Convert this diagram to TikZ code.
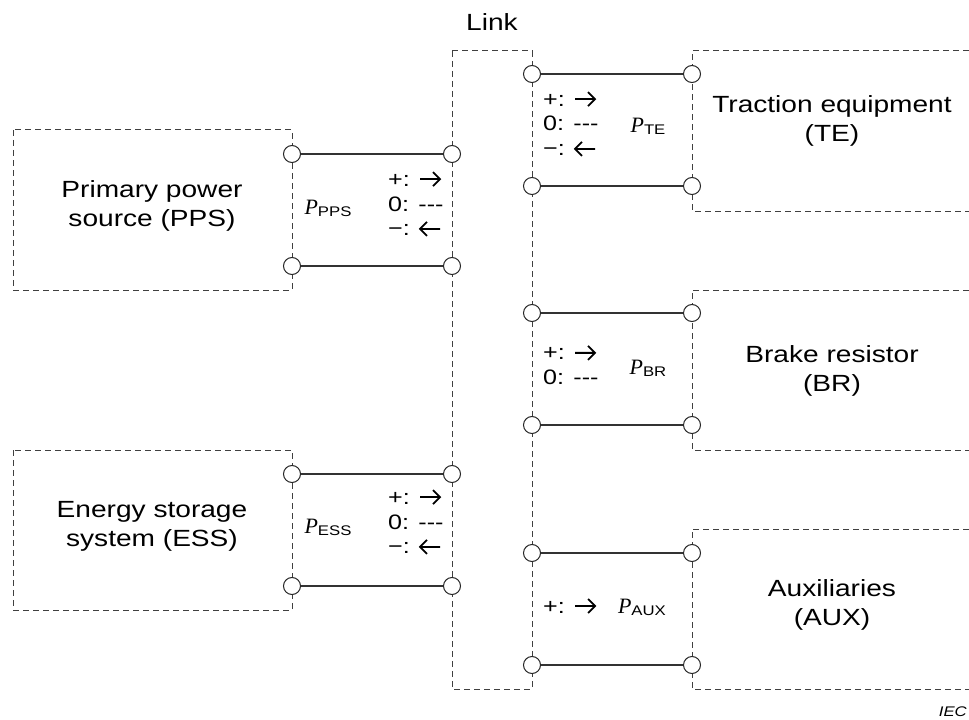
\documentclass[tikz,border=0pt]{standalone}
\usepackage{fontspec}
\setmainfont[FakeStretch=1.2]{Liberation Sans}
\newfontfamily\timesfont{Liberation Serif}
\usetikzlibrary{positioning}

\tikzset{
  unitbox/.style={draw=black!75, line width=1bp, dash pattern=on 6bp off 4bp},
  term/.style={circle, draw=black!85, fill=white, line width=1bp, minimum size=17bp, inner sep=0pt},
  wire/.style={draw=black!80, line width=1.3bp},
  unitlbl/.style={font=\fontsize{23.5}{29}\selectfont, align=center},
  signlbl/.style={font=\fontsize{21}{25}\selectfont, align=left, anchor=west, inner sep=0pt},
  plbl/.style={inner sep=0pt}
}
\newcommand{\pw}[1]{{\timesfont\itshape\fontsize{22}{22}\selectfont P}\raisebox{-0.35ex}{\fontsize{14}{14}\selectfont #1}}
% arrows of the sign legend
\newcommand{\rarr}{\tikz[x=1bp,y=1bp,baseline=0pt]\draw[line width=1.8bp,line join=miter] (0,7) -- (20,7) (13,14) -- (20,7) -- (13,0);}
\newcommand{\larr}{\tikz[x=1bp,y=1bp,baseline=0pt]\draw[line width=1.8bp,line join=miter] (20,7) -- (0,7) (7,14) -- (0,7) -- (7,0);}

\begin{document}
\begin{tikzpicture}[x=1bp,y=-1bp]
\useasboundingbox (0,0) rectangle (969,720);

% Link and units (dashed outlines)
\draw[unitbox] (452,51) rectangle (532,689);
\draw[unitbox] (13,130) rectangle (292,290);
\draw[unitbox] (13,450) rectangle (292,610);
\draw[unitbox] (969,51) -- (692,51) -- (692,211) -- (969,211);
\draw[unitbox] (969,290) -- (692,290) -- (692,450) -- (969,450);
\draw[unitbox] (969,529) -- (692,529) -- (692,689) -- (969,689);

% Terminals of PPS and ESS
\node[term] (ppsT) at (292,154) {};
\node[term] (ppsB) at (292,266) {};
\node[term] (lkPpsT) at (452,154) {};
\node[term] (lkPpsB) at (452,266) {};
\node[term] (essT) at (292,474) {};
\node[term] (essB) at (292,586) {};
\node[term] (lkEssT) at (452,474) {};
\node[term] (lkEssB) at (452,586) {};

% Terminals of TE, BR and AUX
\node[term] (lkTeT) at (532,74) {};
\node[term] (lkTeB) at (532,186) {};
\node[term] (teT) at (692,74) {};
\node[term] (teB) at (692,186) {};
\node[term] (lkBrT) at (532,313) {};
\node[term] (lkBrB) at (532,425) {};
\node[term] (brT) at (692,313) {};
\node[term] (brB) at (692,425) {};
\node[term] (lkAuxT) at (532,553) {};
\node[term] (lkAuxB) at (532,665) {};
\node[term] (auxT) at (692,553) {};
\node[term] (auxB) at (692,665) {};

% Wires
\draw[wire] (ppsT) -- (lkPpsT);
\draw[wire] (ppsB) -- (lkPpsB);
\draw[wire] (essT) -- (lkEssT);
\draw[wire] (essB) -- (lkEssB);
\draw[wire] (lkTeT) -- (teT);
\draw[wire] (lkTeB) -- (teB);
\draw[wire] (lkBrT) -- (brT);
\draw[wire] (lkBrB) -- (brB);
\draw[wire] (lkAuxT) -- (auxT);
\draw[wire] (lkAuxB) -- (auxB);

% Unit names
\node[unitlbl] (link) at (492,22) {Link};
\node[unitlbl] (pps) at (152,206) {Primary power\\source (PPS)};
\node[unitlbl] (ess) at (152,526) {Energy storage\\system (ESS)};
\node[unitlbl] (te) at (832,121) {Traction equipment\\(TE)};
\node[unitlbl] (br) at (832,371) {Brake resistor\\(BR)};
\node[unitlbl] (aux) at (832,605) {Auxiliaries\\(AUX)};

% Power flows and signs
\node[plbl] (pPps) at (328,208) {\pw{PPS}};
\node[signlbl] (sPps) at (388,204) {+: \rarr\\0: -{}-{}-\\−: \larr};
\node[plbl] (pEss) at (328,527) {\pw{ESS}};
\node[signlbl] (sEss) at (388,522) {+: \rarr\\0: -{}-{}-\\−: \larr};
\node[plbl] (pTe) at (648,126) {\pw{TE}};
\node[signlbl] (sTe) at (543,124) {+: \rarr\\0: -{}-{}-\\−: \larr};
\node[plbl] (pBr) at (648,368) {\pw{BR}};
\node[signlbl] (sBr) at (543,365) {+: \rarr\\0: -{}-{}-};
\node[plbl] (pAux) at (642,607) {\pw{AUX}};
\node[signlbl] (sAux) at (543,606) {+: \rarr};

\node[font=\fontsize{14}{14}\selectfont\itshape, anchor=east, inner sep=0pt] (iec) at (967,712) {IEC};
\end{tikzpicture}
\end{document}
